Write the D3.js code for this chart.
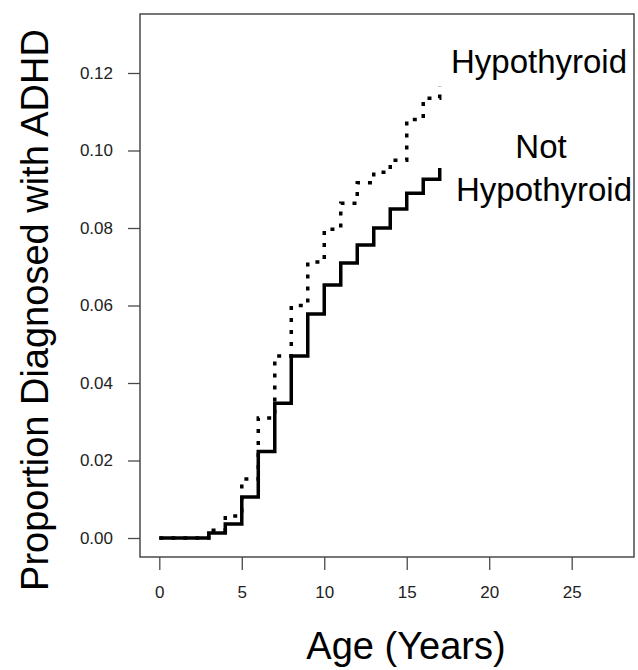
<!DOCTYPE html>
<html>
<head>
<meta charset="utf-8">
<script src="https://cdn.jsdelivr.net/npm/d3@7"></script>
<style>
  body { margin: 0; background: white; }
</style>
</head>
<body>
<script>

// Data
var ages = [0, 3, 4, 5, 6, 7, 8, 9, 10, 11, 12, 13, 14, 15, 16, 17];
var notHypothyroid = [0, 0.0013, 0.0036, 0.0106, 0.0223, 0.0348, 0.047, 0.0578, 0.0653, 0.071, 0.0756, 0.080, 0.0849, 0.089, 0.0926, 0.0955];
var hypothyroid = [0, 0.002, 0.0057, 0.0152, 0.031, 0.047, 0.060, 0.0712, 0.0797, 0.0864, 0.0917, 0.0944, 0.0975, 0.108, 0.1135, 0.1166];
var xTicks = [0, 5, 10, 15, 20, 25];
var yTicks = [0, 0.02, 0.04, 0.06, 0.08, 0.10, 0.12];

var svg_width = 638, svg_height = 670;
var box = {left: 140, top: 14, right: 634, bottom: 557};

var svg, xScale, yScale;


function start()
{
  svg = d3.select("body").append("svg")
          .attr("width", svg_width)
          .attr("height", svg_height)
          .style("font-family", "'Liberation Sans', Arial, sans-serif");

  xScale = d3.scaleLinear().domain([0, 25]).range([159.3, 571.7]);
  yScale = d3.scaleLinear().domain([0, 0.12]).range([538, 73]);

  drawAxes();
  drawCurves();
  drawLabels();
}


function drawAxes()
{
  // plot frame
  svg.append("rect")
     .attr("x", box.left)
     .attr("y", box.top)
     .attr("width", box.right - box.left)
     .attr("height", box.bottom - box.top)
     .style("fill", "none")
     .style("stroke", "#4a4a4a")
     .style("stroke-width", 1.5);

  // bottom axis, ticks hanging below the frame
  var xAxis = d3.axisBottom(xScale)
                .tickValues(xTicks)
                .tickSize(13)
                .tickPadding(16)
                .tickFormat(d3.format("d"));

  var gx = svg.append("g")
              .attr("transform", "translate(0," + box.bottom + ")")
              .call(xAxis);
  gx.select(".domain").remove();

  // left axis
  var yAxis = d3.axisLeft(yScale)
                .tickValues(yTicks)
                .tickSize(12)
                .tickPadding(15)
                .tickFormat(d3.format(".2f"));

  var gy = svg.append("g")
              .attr("transform", "translate(" + box.left + ",0)")
              .call(yAxis);
  gy.select(".domain").remove();

  svg.selectAll(".tick line").style("stroke", "#4a4a4a").style("stroke-width", 1.3);
  svg.selectAll(".tick text")
     .style("font-family", "'Liberation Sans', Arial, sans-serif")
     .style("font-size", "17px")
     .style("fill", "#222");
}


function drawCurves()
{
  var line = d3.line()
               .x(function(d) { return xScale(d[0]); })
               .y(function(d) { return yScale(d[1]); })
               .curve(d3.curveStepAfter);

  var solidPts = ages.map(function(a, i) { return [a, notHypothyroid[i]]; });
  var dotPts = ages.map(function(a, i) { return [a, hypothyroid[i]]; });

  svg.append("path")
     .attr("d", line(solidPts))
     .style("fill", "none")
     .style("stroke", "black")
     .style("stroke-width", 3.5);

  svg.append("path")
     .attr("d", line(dotPts))
     .style("fill", "none")
     .style("stroke", "black")
     .style("stroke-width", 3.5)
     .style("stroke-dasharray", "4,8");
}


function drawLabels()
{
  var labelFont = "33px";

  svg.append("text")
     .attr("x", 539).attr("y", 73)
     .attr("text-anchor", "middle")
     .style("font-size", labelFont)
     .text("Hypothyroid");

  svg.append("text")
     .attr("x", 541).attr("y", 158)
     .attr("text-anchor", "middle")
     .style("font-size", labelFont)
     .text("Not");

  svg.append("text")
     .attr("x", 544).attr("y", 201)
     .attr("text-anchor", "middle")
     .style("font-size", labelFont)
     .text("Hypothyroid");

  // axis titles
  svg.append("text")
     .attr("x", 406).attr("y", 659)
     .attr("text-anchor", "middle")
     .style("font-size", "38px")
     .text("Age (Years)");

  svg.append("text")
     .attr("transform", "translate(48,310) rotate(-90)")
     .attr("text-anchor", "middle")
     .style("font-size", "38px")
     .text("Proportion Diagnosed with ADHD");
}


start();

</script>
</body>
</html>
